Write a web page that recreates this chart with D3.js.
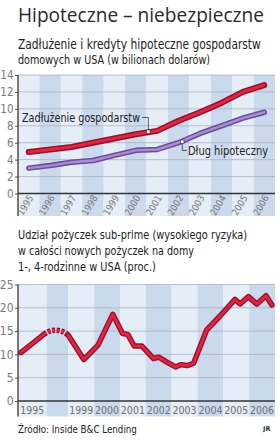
<!DOCTYPE html>
<html>
<head>
<meta charset="utf-8">
<script src="https://cdn.jsdelivr.net/npm/d3@7"></script>
<style>
  body { margin: 0; background: #fff; }
  svg { display: block; }
</style>
</head>
<body>
<svg width="280" height="442"></svg>
<script>
// chart 1: debt and mortgages (trillion USD)
const debtYears = ['1995','1996','1997','1998','1999','2000','2001','2002','2003','2004','2005','2006'];
const householdDebt = [4.9, 5.2, 5.5, 6.0, 6.5, 7.0, 7.4, 8.6, 9.6, 10.7, 12.0, 12.8];
const mortgageDebt  = [3.0, 3.3, 3.7, 3.9, 4.5, 5.1, 5.2, 6.0, 7.1, 8.0, 8.9, 9.6];
const debtTicks = [0, 2, 4, 6, 8, 10, 12, 14];

// chart 2: sub-prime share (%)
const subBands  = [[1995, 1996], [1996, 1999], [1999, 2000], [2000, 2001], [2001, 2002], [2002, 2003],
                   [2003, 2004], [2004, 2005], [2005, 2006], [2006, 2007]];
const subLabels = ['1995', '', '1999', '2000', '2001', '2002', '2003', '2004', '2005', '2006'];
const subX = [1995.1, 1995.9, 1996.4, 1997.2, 1998.0, 1998.6, 1999.0, 1999.6, 2000.15, 2000.72,
              2001.1, 2001.3, 2001.55, 2001.85, 2002.3, 2002.5, 2002.8, 2003.15, 2003.35, 2003.6,
              2003.85, 2004.35, 2004.9, 2005.45, 2005.65, 2005.97, 2006.3, 2006.65, 2006.88];
const subY = [10.4, 14.3, 15.0, 15.2, 15.0, 14.6, 14.1, 8.9, 12.0, 18.6,
              14.5, 14.3, 11.8, 11.8, 9.1, 9.4, 8.4, 7.3, 7.8, 7.6,
              8.1, 15.2, 18.4, 21.8, 20.8, 22.4, 20.8, 22.6, 20.6];
const dashFrom = 1995.9, dashTo = 1999.0;   // estimated part, drawn dashed
const subTicks = [0, 5, 10, 15, 20, 25];

const svg = d3.select('svg');
const narrow = "'Liberation Sans Narrow', 'DejaVu Sans Condensed', sans-serif";
const lightBand = '#e5edf7', darkBand = '#cad9eb', gridCol = '#a9b3c2';

// text sized so that it spans the given width, stretched a bit vertically
const addText = (txt, x, y, size, width, opts = {}) => {
  const sy = opts.sy || 1;
  const t = svg.append('text')
    .attr('transform', `translate(${x},${y}) scale(1,${sy})`)
    .attr('font-family', opts.family || narrow)
    .attr('font-size', size)
    .attr('fill', opts.fill || '#222')
    .text(txt);
  if (width) {
    const w = t.node().getComputedTextLength();
    if (w > 0) t.attr('font-size', (size * width / w).toFixed(2));
  }
  return t;
};

// titles
addText('Hipoteczne – niebezpieczne', 18, 21.5, 18, 246, {family: "'Open Sans', sans-serif", fill: '#2a2a2a'});
addText('Zadłużenie i kredyty hipoteczne gospodarstw', 18, 48.5, 13.5, 243, {sy: 1.13});
addText('domowych w USA (w bilionach dolarów)', 18, 64, 13.5, 192, {sy: 1.13});

// double stroked line helper
const drawLine = (g, d, outer, inner, wo, wi, dash) => {
  [[outer, wo], [inner, wi]].forEach(([c, w]) => {
    const p = g.append('path').attr('d', d)
      .attr('fill', 'none').attr('stroke', c).attr('stroke-width', w)
      .attr('stroke-linejoin', 'round').attr('stroke-linecap', dash ? 'butt' : 'round');
    if (dash) p.attr('stroke-dasharray', dash);
  });
};

// ---------- chart 1 ----------
const x1 = d3.scaleBand().domain(debtYears).range([18, 275]);
const y1 = d3.scaleLinear().domain([0, 14]).range([193.5, 75]);
const g1 = svg.append('g');

g1.selectAll('rect.band').data(debtYears).enter().append('rect')
  .attr('x', d => x1(d)).attr('y', y1(14))
  .attr('width', x1.bandwidth()).attr('height', 216 - y1(14))
  .attr('fill', (d, i) => i % 2 ? darkBand : lightBand);

g1.selectAll('line.grid').data(debtTicks.slice(1)).enter().append('line')
  .attr('x1', 18).attr('x2', 275)
  .attr('y1', d => y1(d)).attr('y2', d => y1(d))
  .attr('stroke', gridCol).attr('stroke-width', 0.8);

const yAxis1 = g1.append('g').attr('transform', 'translate(18,0)')
  .call(d3.axisLeft(y1).tickValues(debtTicks).tickSize(3).tickPadding(1.5));
yAxis1.select('.domain').remove();
yAxis1.selectAll('line').attr('stroke', '#555');
yAxis1.selectAll('text').attr('font-family', narrow).attr('font-size', 11.5).attr('fill', '#7a7a7a');

g1.append('line').attr('x1', 18).attr('x2', 18).attr('y1', y1(14)).attr('y2', 216)
  .attr('stroke', '#333').attr('stroke-width', 1.3);
g1.append('line').attr('x1', 18).attr('x2', 275).attr('y1', y1(0)).attr('y2', y1(0))
  .attr('stroke', '#333').attr('stroke-width', 1.5);

g1.selectAll('text.year').data(debtYears).enter().append('text')
  .attr('transform', d => `translate(${x1(d) + x1.bandwidth() / 2 + 5},197.5) rotate(-60)`)
  .attr('text-anchor', 'end')
  .attr('font-family', narrow).attr('font-size', 9.5).attr('fill', '#777')
  .text(d => d);

const line1 = d3.line().x((d, i) => x1(debtYears[i]) + x1.bandwidth() / 2).y(d => y1(d));
drawLine(g1, line1(mortgageDebt), '#6c4d99', '#a98ed2', 5.5, 2.4);
drawLine(g1, line1(householdDebt), '#a10d2d', '#d92a44', 6, 2.8);

// labels with leaders
const lab = g1.append('g');
lab.append('path').attr('d', 'M142,117.5 H148.3 V131.7')
  .attr('fill', 'none').attr('stroke', '#333').attr('stroke-width', 0.8);
lab.append('path').attr('d', 'M182.3,141.7 V150.5 H187')
  .attr('fill', 'none').attr('stroke', '#333').attr('stroke-width', 0.8);
[[148.3, 131.7], [182.3, 141.7]].forEach(([cx, cy]) => {
  lab.append('rect').attr('x', cx - 1.7).attr('y', cy - 1.7).attr('width', 3.4).attr('height', 3.4)
    .attr('fill', '#fff').attr('stroke', '#333').attr('stroke-width', 0.6);
});
addText('Zadłużenie gospodarstw', 22, 122, 13, 118, {sy: 1.13});
addText('Dług hipoteczny', 188, 155, 13, 80, {sy: 1.13});

// ---------- chart 2 ----------
addText('Udział pożyczek sub-prime (wysokiego ryzyka)', 18, 238.5, 13.5, 229, {sy: 1.13});
addText('w całości nowych pożyczek na domy', 18, 254.5, 13.5, 176, {sy: 1.13});
addText('1-, 4-rodzinne w USA (proc.)', 18, 270.5, 13.5, 138, {sy: 1.13});

const x2 = d3.scaleLinear().domain([1995, 1996, 1999, 2007]).range([18, 46.7, 68.3, 275]);
const y2 = d3.scaleLinear().domain([0, 25]).range([401, 284.5]);
const g2 = svg.append('g');

g2.selectAll('rect.band').data(subBands).enter().append('rect')
  .attr('x', d => x2(d[0])).attr('y', y2(25))
  .attr('width', d => x2(d[1]) - x2(d[0])).attr('height', 416.5 - y2(25))
  .attr('fill', (d, i) => i % 2 ? darkBand : lightBand);

g2.selectAll('line.grid').data(subTicks.slice(1)).enter().append('line')
  .attr('x1', 18).attr('x2', 275)
  .attr('y1', d => y2(d)).attr('y2', d => y2(d))
  .attr('stroke', gridCol).attr('stroke-width', 0.8);

const yAxis2 = g2.append('g').attr('transform', 'translate(18,0)')
  .call(d3.axisLeft(y2).tickValues(subTicks).tickSize(3).tickPadding(1.5));
yAxis2.select('.domain').remove();
yAxis2.selectAll('line').attr('stroke', '#555');
yAxis2.selectAll('text').attr('font-family', narrow).attr('font-size', 12).attr('fill', '#7a7a7a');

g2.append('line').attr('x1', 18).attr('x2', 18).attr('y1', y2(25)).attr('y2', 416.5)
  .attr('stroke', '#333').attr('stroke-width', 1.3);
g2.append('line').attr('x1', 18).attr('x2', 275).attr('y1', y2(0)).attr('y2', y2(0))
  .attr('stroke', '#333').attr('stroke-width', 1.5);

g2.selectAll('text.year').data(subBands).enter().append('text')
  .attr('x', d => (x2(d[0]) + x2(d[1])) / 2).attr('y', 414)
  .attr('text-anchor', 'middle')
  .attr('font-family', narrow).attr('font-size', 10.5).attr('fill', '#6f6f6f')
  .text((d, i) => subLabels[i]);

const pts = subX.map((x, i) => [x, subY[i]]);
const line2 = d3.line().x(d => x2(d[0])).y(d => y2(d[1]));
drawLine(g2, line2(pts.filter(d => d[0] <= dashFrom)), '#a10d2d', '#d92a44', 5.5, 2.6);
drawLine(g2, d3.line().curve(d3.curveMonotoneX).x(d => x2(d[0])).y(d => y2(d[1]))(pts.filter(d => d[0] >= dashFrom && d[0] <= dashTo)),
  '#a10d2d', '#d92a44', 5.5, 2.6, '3,1.6');
drawLine(g2, line2(pts.filter(d => d[0] >= dashTo)), '#a10d2d', '#d92a44', 5.5, 2.6);

// source
addText('Źródło: Inside B&C Lending', 18, 433, 13.5, 119, {sy: 1.13});
addText('JR', 263, 431, 6.5, null, {family: "'DejaVu Sans', sans-serif", fill: '#333'}).attr('font-weight', 'bold');
</script>
</body>
</html>
